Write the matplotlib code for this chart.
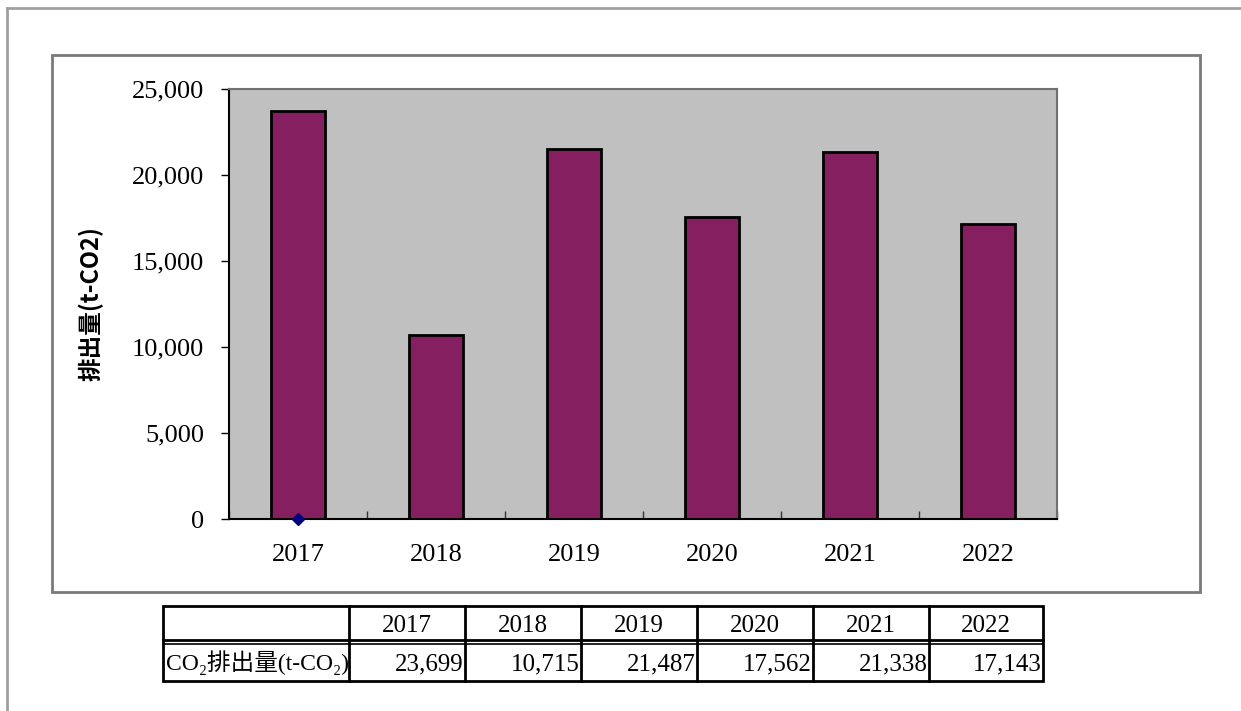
import matplotlib.pyplot as plt
import numpy as np
from matplotlib.patches import Rectangle
from matplotlib.lines import Line2D

# data
years = ["2017", "2018", "2019", "2020", "2021", "2022"]
emissions = [23699, 10715, 21487, 17562, 21338, 17143]
marker_x = [0]
marker_y = [0]
yticks = [0, 5000, 10000, 15000, 20000, 25000]
row_label = "CO₂排出量(t-CO₂)"
ylabel = "排出量(t-CO2)"

serif = ["Liberation Serif", "Noto Sans CJK JP", "DejaVu Sans"]
W, H = 1241, 711

fig = plt.figure(figsize=(W / 100, H / 100), dpi=100)

def fx(px):
    return px / W

def fy(py):
    return 1 - py / H

# outer frame lines
fig.add_artist(Line2D([fx(7), 1], [fy(8), fy(8)], color="#a0a0a0", lw=2))
fig.add_artist(Line2D([fx(7), fx(7)], [fy(8), 0], color="#a0a0a0", lw=2))

# chart area box
fig.add_artist(Rectangle((fx(52), fy(592)), fx(1200) - fx(52), fy(55) - fy(592),
                         transform=fig.transFigure, fill=False,
                         edgecolor="#7a7a7a", lw=2))

# plot area
ax = fig.add_axes([fx(229), fy(519), fx(1057) - fx(229), fy(89) - fy(519)])
ax.set_facecolor("#c0c0c0")
x = np.arange(len(years))
ax.bar(x, emissions, width=0.39, color="#861f5f", edgecolor="black", linewidth=2, zorder=2)
ax.plot(marker_x, marker_y, marker="D", color="#000080", markersize=6,
        linestyle="none", zorder=4, clip_on=False)

ax.set_xlim(-0.5, len(years) - 0.5)
ax.set_ylim(0, 25000)
ax.set_yticks(yticks)
ax.set_yticklabels([f"{v:,}" for v in yticks], family=serif, fontsize=19)
ax.set_xticks(x)
ax.set_xticklabels(years, family=serif, fontsize=19)
ax.tick_params(axis="x", length=0, pad=18)
ax.set_xticks(np.arange(-0.5, len(years)), minor=True)
ax.tick_params(axis="x", which="minor", direction="in", length=6, width=1, color="#333333")
ax.tick_params(axis="y", direction="out", length=6, width=1, pad=12)
for s in ["left", "bottom"]:
    ax.spines[s].set_color("black")
    ax.spines[s].set_linewidth(1.5)
for s in ["top", "right"]:
    ax.spines[s].set_color("#707070")
    ax.spines[s].set_linewidth(1.5)
ax.set_ylabel(ylabel, family=["Noto Sans CJK JP", "DejaVu Sans"], fontsize=17,
              fontweight="bold", labelpad=20)

# data table below the chart
col_w = [186, 116, 116, 116, 116, 116, 114]
tx0, tx1, ty0, ty1 = 163, 1043, 606, 681
tab = fig.add_axes([fx(tx0), fy(ty1), fx(tx1) - fx(tx0), fy(ty0) - fy(ty1)])
tab.set_xlim(0, sum(col_w))
tab.set_ylim(ty1, ty0)
tab.axis("off")
edges = np.concatenate([[0], np.cumsum(col_w)])
lw = 2
tab.add_patch(Rectangle((0, ty0), sum(col_w), ty1 - ty0, fill=False,
                        edgecolor="black", lw=lw, clip_on=False))
for e in edges[1:-1]:
    tab.plot([e, e], [ty0, ty1], color="black", lw=lw, clip_on=False)
tab.plot([0, sum(col_w)], [640, 640], color="black", lw=lw, clip_on=False)
tab.plot([0, sum(col_w)], [643.5, 643.5], color="black", lw=1.2, clip_on=False)

for i, yr in enumerate(years):
    cx = (edges[i + 1] + edges[i + 2]) / 2
    tab.text(cx, 626, yr, ha="center", va="center", family=serif, fontsize=18)
for i, v in enumerate(emissions):
    tab.text(edges[i + 2] - 1, 664, f"{v:,}", ha="right", va="center",
             family=serif, fontsize=18)
clip = Rectangle((0, 643), col_w[0], 38, transform=tab.transData)
lab = tab.text(3, 663, row_label, ha="left", va="center", family=serif, fontsize=17)
lab.set_clip_path(clip)

fig.savefig("out.png", dpi=100)
